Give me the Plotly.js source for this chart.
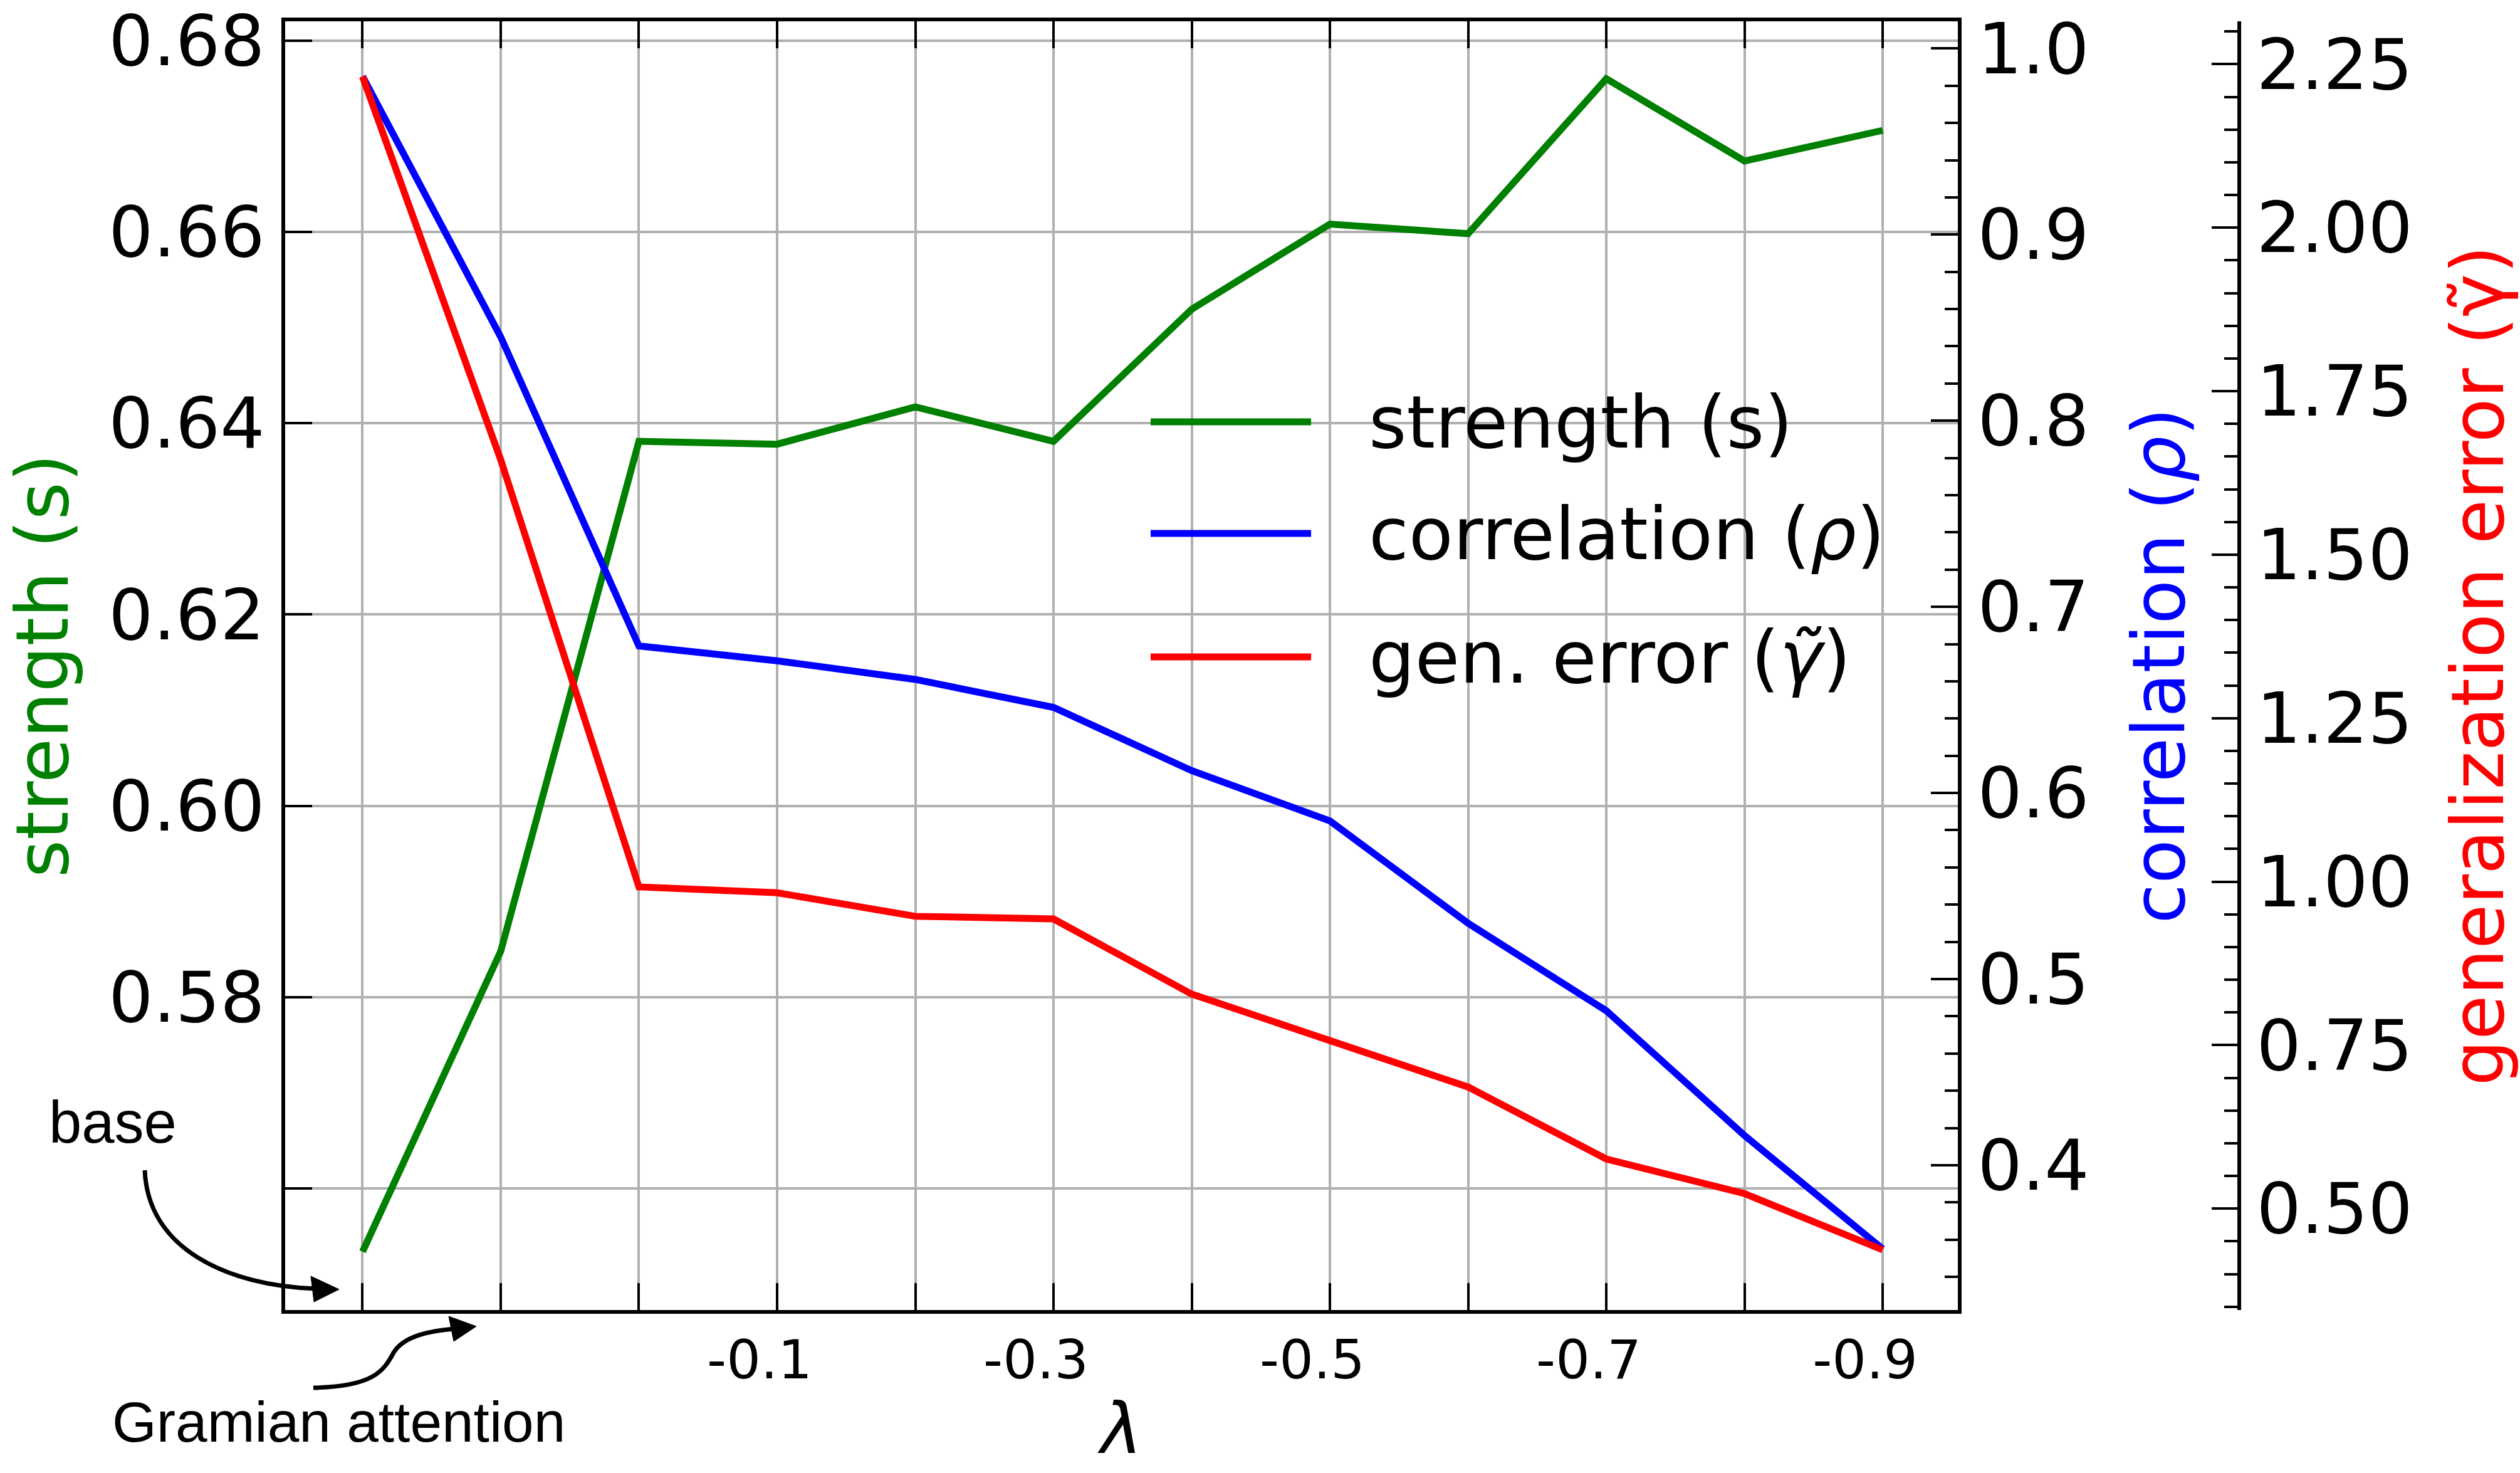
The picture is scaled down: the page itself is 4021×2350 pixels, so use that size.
<!DOCTYPE html>
<html>
<head>
<meta charset="utf-8">
<script src="https://cdn.plot.ly/plotly-3.0.1.min.js"></script>
<style>
  html, body { margin: 0; padding: 0; background: #fff; }
  #chart { width: 4021px; height: 2350px; }
</style>
</head>
<body>
<div id="chart"></div>
<script>
// x positions: base, Gramian attention, then lambda = 0, -0.1 ... -0.9
var xIdx = [0, 1, 2, 3, 4, 5, 6, 7, 8, 9, 10, 11];
var xTickText = ['', '', '', '-0.1', '', '-0.3', '', '-0.5', '', '-0.7', '', '-0.9'];

var strength = [0.5534, 0.5848, 0.6381, 0.6378, 0.6417, 0.6381, 0.6519, 0.6608, 0.6598, 0.6760, 0.6674, 0.6706];
var correlation = [0.985, 0.845, 0.679, 0.671, 0.661, 0.646, 0.612, 0.585, 0.530, 0.483, 0.416, 0.355];
var genError = [2.231, 1.645, 0.992, 0.983, 0.947, 0.943, 0.828, 0.756, 0.686, 0.576, 0.523, 0.437];

var strengthTicks = [0.56, 0.58, 0.60, 0.62, 0.64, 0.66, 0.68];
var strengthTickText = ['', '0.58', '0.60', '0.62', '0.64', '0.66', '0.68'];

var names = ['strength (s)', 'correlation (<i>ρ</i>)', 'gen. error (<i>γ̃</i>)'];
var colors = ['#008000', '#0000ff', '#ff0000'];

// pixel -> paper helpers (plot box 3118 x 2056 px, measured from its top-left)
function px(X) { return (X - 455) / 3118; }
function py(Y) { return (2084 - Y) / 2056; }

var font = 'DejaVu Sans, sans-serif';

var trace1 = {x: xIdx, y: strength, yaxis: 'y', mode: 'lines', name: names[0],
  line: {color: colors[0], width: 11}, showlegend: false};
var trace2 = {x: xIdx, y: correlation, yaxis: 'y2', mode: 'lines', name: names[1],
  line: {color: colors[1], width: 11}, showlegend: false};
var trace3 = {x: xIdx, y: genError, yaxis: 'y3', mode: 'lines', name: names[2],
  line: {color: colors[2], width: 11}, showlegend: false};
var data = [trace1, trace2, trace3];

// legend drawn by hand so the line samples are as long as in the original
var legendY = [667, 845, 1042];
var shapes = [];
var annotations = [];
for (var i = 0; i < 3; i++) {
  shapes.push({type: 'line', xref: 'paper', yref: 'paper',
    x0: px(1836), x1: px(2092), y0: py(legendY[i]), y1: py(legendY[i]),
    line: {color: colors[i], width: 11}});
  annotations.push({xref: 'paper', yref: 'paper', x: px(2182), y: py(legendY[i]),
    xanchor: 'left', yanchor: 'middle', showarrow: false, text: names[i],
    font: {family: font, size: 116, color: '#000'}});
}

// hand-drawn arrows for the two special points
function P(X, Y) { return px(X) + ',' + py(Y); }
shapes.push({type: 'path', xref: 'paper', yref: 'paper',
  path: 'M' + P(231, 1861) + ' C' + P(236, 1985) + ' ' + P(360, 2045) + ' ' + P(505, 2050),
  line: {color: '#000', width: 7}});
shapes.push({type: 'path', xref: 'paper', yref: 'paper',
  path: 'M' + P(541, 2051) + ' L' + P(496, 2030) + ' L' + P(501, 2071) + ' Z',
  fillcolor: '#000', line: {color: '#000', width: 1}});
shapes.push({type: 'path', xref: 'paper', yref: 'paper',
  path: 'M' + P(500, 2208) + ' C' + P(595, 2206) + ' ' + P(612, 2182) + ' ' + P(628, 2152) +
        ' C' + P(645, 2124) + ' ' + P(690, 2117) + ' ' + P(724, 2114),
  line: {color: '#000', width: 7}});
shapes.push({type: 'path', xref: 'paper', yref: 'paper',
  path: 'M' + P(760, 2110) + ' L' + P(716, 2094) + ' L' + P(724, 2134) + ' Z',
  fillcolor: '#000', line: {color: '#000', width: 1}});

annotations.push({xref: 'paper', yref: 'paper', x: px(180), y: py(1784),
  xanchor: 'center', yanchor: 'middle', showarrow: false, text: 'base',
  font: {family: 'Liberation Sans, Arial, sans-serif', size: 94, color: '#000'}});
annotations.push({xref: 'paper', yref: 'paper', x: px(540), y: py(2262),
  xanchor: 'center', yanchor: 'middle', showarrow: false, text: 'Gramian attention',
  font: {family: 'Liberation Sans, Arial, sans-serif', size: 91, color: '#000'}});

var layout = {
  width: 4021,
  height: 2350,
  margin: {l: 455, r: 448, t: 34, b: 260},
  paper_bgcolor: '#fff',
  plot_bgcolor: '#fff',
  font: {family: font, color: '#000'},
  showlegend: false,
  xaxis: {
    domain: [0, 2669 / 3118],
    range: [-0.56, 11.544],
    tickvals: xIdx,
    ticktext: xTickText,
    ticks: 'inside', ticklen: 43, tickwidth: 4, tickcolor: '#000',
    showline: true, linewidth: 6, linecolor: '#000', mirror: 'ticks',
    showgrid: true, gridcolor: '#b0b0b0', gridwidth: 4,
    zeroline: false,
    tickfont: {family: font, size: 86},
    ticklabelstandoff: 0,
    ticklabelshift: -28,
    ticklabeloverflow: 'allow',
    title: {text: '<i>λ</i>', font: {family: font, size: 112}, standoff: 23}
  },
  yaxis: {
    range: [0.5473, 0.6820],
    tickvals: strengthTicks,
    ticktext: strengthTickText,
    ticks: 'inside', ticklen: 43, tickwidth: 4, tickcolor: '#000',
    showline: true, linewidth: 6, linecolor: '#000',
    showgrid: true, gridcolor: '#b0b0b0', gridwidth: 4,
    zeroline: false,
    tickfont: {family: font, size: 112},
    ticklabelstandoff: 4,
    ticklabeloverflow: 'allow',
    title: {text: 'strength (s)', font: {family: font, size: 116, color: colors[0]}, standoff: 66}
  },
  yaxis2: {
    overlaying: 'y', side: 'right', anchor: 'x',
    range: [0.3222, 1.0146],
    dtick: 0.1, tick0: 0, tickformat: '.1f',
    ticks: 'inside', ticklen: 43, tickwidth: 4, tickcolor: '#000',
    minor: {ticks: 'inside', ticklen: 21, tickwidth: 4, dtick: 0.02, tick0: 0, tickcolor: '#000', showgrid: false},
    showline: true, linewidth: 6, linecolor: '#000',
    showgrid: false, zeroline: false,
    tickfont: {family: font, size: 112},
    ticklabelstandoff: 3,
    ticklabeloverflow: 'allow',
    title: {text: 'correlation (<i>ρ</i>)', font: {family: font, size: 116, color: colors[1]}, standoff: 73}
  },
  yaxis3: {
    overlaying: 'y', side: 'right', anchor: 'free', position: 1,
    range: [0.345, 2.3155],
    dtick: 0.25, tick0: 0, tickformat: '.2f',
    ticks: 'inside', ticklen: 41, tickwidth: 4, tickcolor: '#000',
    minor: {ticks: 'inside', ticklen: 21, tickwidth: 4, dtick: 0.05, tick0: 0, tickcolor: '#000', showgrid: false},
    showline: true, linewidth: 6, linecolor: '#000',
    showgrid: false, zeroline: false,
    tickfont: {family: font, size: 112},
    ticklabelstandoff: 2,
    ticklabeloverflow: 'allow',
    title: {text: 'generalization error (γ̃)', font: {family: font, size: 116, color: colors[2]}, standoff: 66}
  },
  shapes: shapes,
  annotations: annotations
};

Plotly.newPlot('chart', data, layout, {displayModeBar: false, staticPlot: true});
</script>
</body>
</html>
